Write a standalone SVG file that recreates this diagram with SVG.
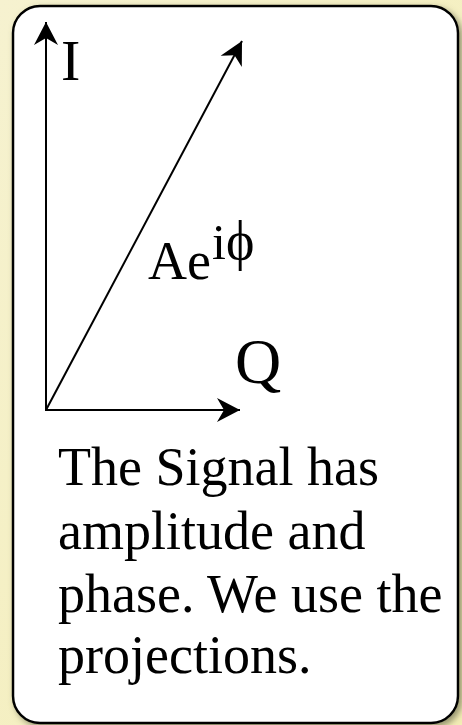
<svg xmlns="http://www.w3.org/2000/svg" width="462" height="725" viewBox="0 0 462 725">
  <defs>
    <style>
      .lbl { font-family: "Liberation Serif", "DejaVu Serif", serif; fill: #000; }
      .body { font-family: "Liberation Serif", "DejaVu Serif", serif; font-size: 54px; fill: #000; }
      .axis { stroke: #000; stroke-width: 2; fill: none; marker-end: url(#stealth); }
    </style>
    <marker id="stealth" viewBox="-24 -13 25 26" refX="0" refY="0" markerWidth="25" markerHeight="26" markerUnits="userSpaceOnUse" orient="auto">
      <path d="M0,0 L-23,-12 L-16,0 L-23,12 Z" fill="#000"/>
    </marker>
    <filter id="shadow" x="-5%" y="-5%" width="115%" height="115%">
      <feDropShadow dx="3" dy="3" stdDeviation="3" flood-color="#6b6b50" flood-opacity="0.7"/>
    </filter>
    <linearGradient id="bg" x1="0" y1="0" x2="1" y2="1">
      <stop offset="0" stop-color="#f6f2d0"/>
      <stop offset="1" stop-color="#f3edb5"/>
    </linearGradient>
  </defs>
  <rect x="0" y="0" width="462" height="725" fill="url(#bg)"/>
  <g id="card">
    <rect x="13" y="6" width="445" height="717" rx="27" ry="27" fill="#fff" stroke="#000" stroke-width="2.5" filter="url(#shadow)"/>
  </g>
  <g id="connectors">
    <line class="axis" x1="46" y1="411" x2="46" y2="22"/>
    <line class="axis" x1="45" y1="410" x2="240" y2="410"/>
    <line class="axis" x1="46" y1="410" x2="242" y2="41"/>
  </g>
  <g id="label-I">
    <text class="lbl" x="61" y="80" font-size="58">I</text>
  </g>
  <g id="label-signal">
    <text class="lbl" x="148" y="279" font-size="54">Ae<tspan font-size="50" dy="-20" dx="1">i</tspan><tspan font-size="54">ϕ</tspan></text>
  </g>
  <g id="label-Q">
    <text class="lbl" x="235" y="383" font-size="64">Q</text>
  </g>
  <g id="caption">
    <text class="body" x="58" y="485">The Signal has</text>
    <text class="body" x="58" y="549">amplitude and</text>
    <text class="body" x="58" y="612">phase. We use the</text>
    <text class="body" x="58" y="673">projections.</text>
  </g>
</svg>
